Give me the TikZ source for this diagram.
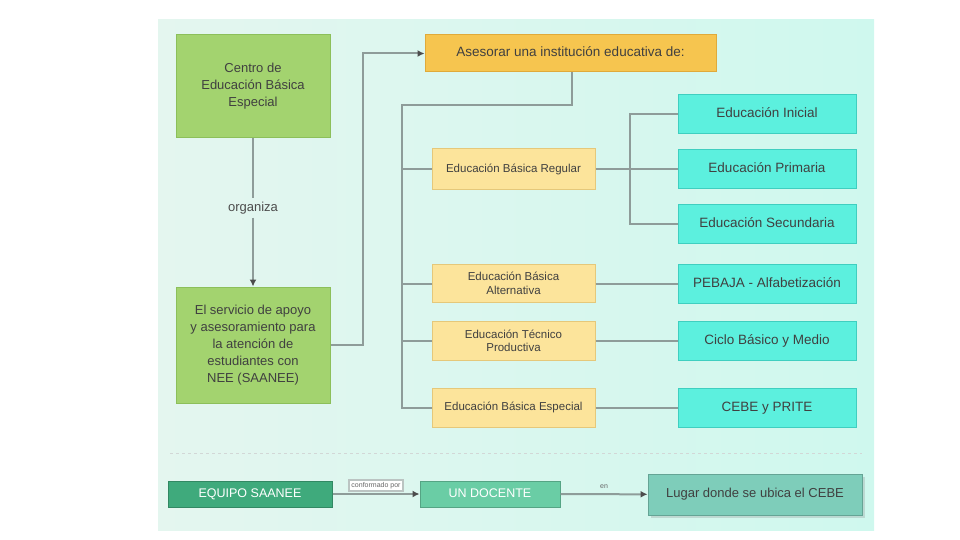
\documentclass[tikz,border=0pt]{standalone}
\usepackage{fontspec}
\setmainfont{Liberation Sans}
\usepackage{xcolor}
\usetikzlibrary{positioning, shapes, arrows, calc, arrows.meta, shadows}

\definecolor{panelL}{HTML}{E4F6EF}
\definecolor{panelR}{HTML}{CFF8EE}
\definecolor{leafgreen}{HTML}{A3D36F}
\definecolor{leafedge}{HTML}{8CBF5A}
\definecolor{orangebox}{HTML}{F6C54F}
\definecolor{orangeedge}{HTML}{E0AA3A}
\definecolor{paleyellow}{HTML}{FCE49B}
\definecolor{paleedge}{HTML}{E5C87A}
\definecolor{turq}{HTML}{5CF0DE}
\definecolor{turqedge}{HTML}{3FCFC0}
\definecolor{linegray}{HTML}{8E9C99}
\definecolor{teamgreen}{HTML}{3FAA7C}
\definecolor{teamlight}{HTML}{6ACDA5}
\definecolor{placeteal}{HTML}{7ECDBA}

\begin{document}
\begin{tikzpicture}[
    x=1pt, y=-1pt,
    center/.style={rectangle, draw=leafedge, fill=leafgreen, line width=1pt, minimum width=154pt, align=center, text=black!75, font=\fontsize{13}{17}\selectfont},
    advise/.style={rectangle, draw=orangeedge, fill=orangebox, line width=1pt, minimum width=291pt, minimum height=37pt, text height=10pt, text depth=3pt, text=black!75, font=\fontsize{13.5}{16}\selectfont},
    level/.style={rectangle, draw=paleedge, fill=paleyellow, line width=1pt, minimum width=163pt, align=center, text=black!75, font=\fontsize{11.5}{13.5}\selectfont},
    stage/.style={rectangle, draw=turqedge, fill=turq, line width=1pt, minimum width=178pt, minimum height=39pt, text height=10pt, text depth=3pt, text=black!75, font=\fontsize{13.5}{16}\selectfont},
    team/.style={rectangle, draw=teamgreen!80!black, fill=teamgreen, line width=1pt, minimum height=26pt, text height=9pt, text depth=3pt, text=white, font=\fontsize{12.5}{15}\selectfont},
    link/.style={draw=linegray, line width=2pt},
    arrow/.style={link, -{Latex[length=7pt, width=7pt, color=black!70]}},
    tag/.style={fill=white, draw=linegray!60, inner sep=2pt, font=\fontsize{7}{8}\selectfont, text=black!60}
]
\useasboundingbox (0,0) rectangle (960,540);

% background panel
\shade[left color=panelL, right color=panelR] (158,20) rectangle (874,530);
\draw[linegray!40, dashed, line width=1pt] (170,453) -- (862,453);

% left column
\node[center, minimum height=103pt] (cebe) at (253,86.5) {Centro de\\Educación Básica\\Especial};
\node[center, minimum height=116pt] (saanee) at (253,345) {El servicio de apoyo\\y asesoramiento para\\la atención de\\estudiantes con\\NEE (SAANEE)};
\node[text=black!70, font=\fontsize{13}{15}\selectfont] (organiza) at (253,208) {organiza};

% top box
\node[advise] (asesorar) at (570.5,53.5) {Asesorar una institución educativa de:};

% levels
\node[level, minimum height=40pt] (ebr) at (513.5,169) {Educación Básica Regular};
\node[level, minimum height=38pt] (eba) at (513.5,283.5) {Educación Básica\\Alternativa};
\node[level, minimum height=39pt] (etp) at (513.5,341) {Educación Técnico\\Productiva};
\node[level, minimum height=39pt] (ebe) at (513.5,407.5) {Educación Básica Especial};

% stages
\node[stage] (inicial) at (767,114) {Educación Inicial};
\node[stage] (primaria) at (767,169) {Educación Primaria};
\node[stage] (secundaria) at (767,223.5) {Educación Secundaria};
\node[stage] (pebaja) at (767,283.5) {PEBAJA - Alfabetización};
\node[stage] (ciclo) at (767,341) {Ciclo Básico y Medio};
\node[stage] (prite) at (767,407.5) {CEBE y PRITE};

% bottom row
\node[team, minimum width=164pt] (equipo) at (250,494) {EQUIPO SAANEE};
\node[team, fill=teamlight, draw=teamlight!80!black, minimum width=140pt] (docente) at (490,494) {UN DOCENTE};
\node[rectangle, fill=placeteal, draw=placeteal!80!black, line width=1pt, minimum width=214pt, minimum height=41pt, text height=9.5pt, text depth=3pt, drop shadow={opacity=0.25}, text=black!75, font=\fontsize{13}{15}\selectfont] (lugar) at (755,494.5) {Lugar donde se ubica el CEBE};

% connectors
\draw[link] (cebe) -- (organiza);
\draw[arrow] (organiza) -- (saanee);
\coordinate (up) at (363,53.5);
\draw[arrow] (saanee.east) -| (up) -- (asesorar.west);

\coordinate (split) at (572,105);
\coordinate (trunk) at (402,105);
\draw[link] (asesorar.south -| split) -- (split) -- (trunk) |- (ebe.west);
\draw[link] (trunk |- ebr.west) -- (ebr.west);
\draw[link] (trunk |- eba.west) -- (eba.west);
\draw[link] (trunk |- etp.west) -- (etp.west);

\coordinate (fork) at (630,169);
\draw[link] (ebr.east) -- (primaria.west);
\draw[link] (inicial.west) -| (fork) |- (secundaria.west);
\draw[link] (eba.east) -- (pebaja.west);
\draw[link] (etp.east) -- (ciclo.west);
\draw[link] (ebe.east) -- (prite.west);

\draw[arrow] (equipo) -- node[tag, above=2pt] {conformado por} (docente);
\draw[arrow] (docente) -- node[above=1pt, font=\fontsize{7}{8}\selectfont, text=black!60] {en} (lugar);

\end{tikzpicture}
\end{document}
